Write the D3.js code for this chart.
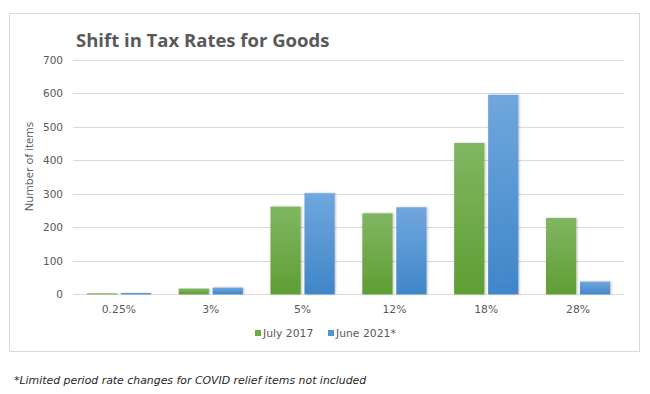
<!DOCTYPE html>
<html><head><meta charset="utf-8">
<script src="https://cdn.jsdelivr.net/npm/d3@7"></script>
<style>body{margin:0;background:#fff}svg{display:block}</style>
</head><body>
<script>
const categories = ["0.25%","3%","5%","12%","18%","28%"];
const seriesNames = ["July 2017","June 2021*"];
const july2017 = [3,17,262,242,452,228];
const june2021 = [4,20,302,260,596,38];
const yTicks = [0,100,200,300,400,500,600,700];
const title = "Shift in Tax Rates for Goods";
const yTitle = "Number of items";
const footnote = "*Limited period rate changes for COVID relief items not included";

const W=650,H=394;
const svg=d3.select("body").append("svg").attr("width",W).attr("height",H);
const defs=svg.append("defs");
const grads=[["g0","#81b662","#5f9e33"],["g1","#70a7dd","#3f86c9"]];
grads.forEach(([id,a,b])=>{
  const g=defs.append("linearGradient").attr("id",id).attr("x1",0).attr("y1",0).attr("x2",0).attr("y2",1);
  g.append("stop").attr("offset","0%").attr("stop-color",a);
  g.append("stop").attr("offset","100%").attr("stop-color",b);
});
const f=defs.append("filter").attr("id","sh").attr("x","-30%").attr("y","-10%").attr("width","160%").attr("height","120%");
f.append("feDropShadow").attr("dx",1).attr("dy",0).attr("stdDeviation",1.2).attr("flood-color","#000").attr("flood-opacity",0.25);

svg.append("rect").attr("x",9.5).attr("y",13.5).attr("width",630).attr("height",338)
  .attr("fill","#fff").attr("stroke","#d9d9d9");

const x=d3.scaleBand().domain(categories).range([73,624]).paddingInner(0).paddingOuter(0);
const y=d3.scaleLinear().domain([0,700]).range([294.3,60]);
const sub=d3.scaleBand().domain(seriesNames).range([13.8,x.bandwidth()-13.8]).paddingInner(0.11);

svg.append("g").selectAll("line").data(yTicks).join("line")
  .attr("x1",73).attr("x2",624).attr("y1",d=>Math.round(y(d))+0.5).attr("y2",d=>Math.round(y(d))+0.5)
  .attr("stroke","#d9d9d9").attr("stroke-width",1);

svg.append("g").selectAll("text").data(yTicks).join("text")
  .attr("x",63).attr("y",d=>y(d)).attr("dy","0.35em").attr("text-anchor","end")
  .attr("font-family","DejaVu Sans, Verdana, sans-serif").attr("font-size",10.5).attr("fill","#595959").text(d=>d);

const series=[july2017,june2021];
series.forEach((vals,si)=>{
  svg.append("g").selectAll("rect").data(categories).join("rect")
    .attr("x",(c)=>x(c)+sub(seriesNames[si]))
    .attr("width",sub.bandwidth())
    .attr("y",(c,i)=>y(vals[i]))
    .attr("height",(c,i)=>y(0)-y(vals[i]))
    .attr("fill",`url(#g${si})`).attr("filter","url(#sh)");
});

svg.append("g").selectAll("text").data(categories).join("text")
  .attr("x",c=>x(c)+x.bandwidth()/2).attr("y",313).attr("text-anchor","middle")
  .attr("font-family","DejaVu Sans, Verdana, sans-serif").attr("font-size",10.8).attr("fill","#595959").text(c=>c);

svg.append("text").attr("x",76).attr("y",47)
  .attr("font-family","Open Sans, sans-serif").attr("font-weight","bold").attr("font-size",18.5).attr("fill","#595959").text(title);

svg.append("text").attr("transform","translate(33,166.5) rotate(-90)").attr("text-anchor","middle")
  .attr("font-family","Open Sans, sans-serif").attr("font-size",11.3).attr("fill","#595959").text(yTitle);

const lg=svg.append("g");
const legX=[255,328];
const legColors=["#6aaa45","#5096d6"];
seriesNames.forEach((n,i)=>{
  lg.append("rect").attr("x",legX[i]).attr("y",330).attr("width",6).attr("height",6).attr("fill",legColors[i]);
  lg.append("text").attr("x",legX[i]+8).attr("y",337).attr("font-family","DejaVu Sans, Verdana, sans-serif")
    .attr("font-size",10.8).attr("fill","#595959").text(n);
});

svg.append("text").attr("x",14).attr("y",384).attr("font-family","DejaVu Sans, Verdana, sans-serif")
  .attr("font-style","italic").attr("font-size",10.9).attr("fill","#262626").text(footnote);
</script>
</body></html>
